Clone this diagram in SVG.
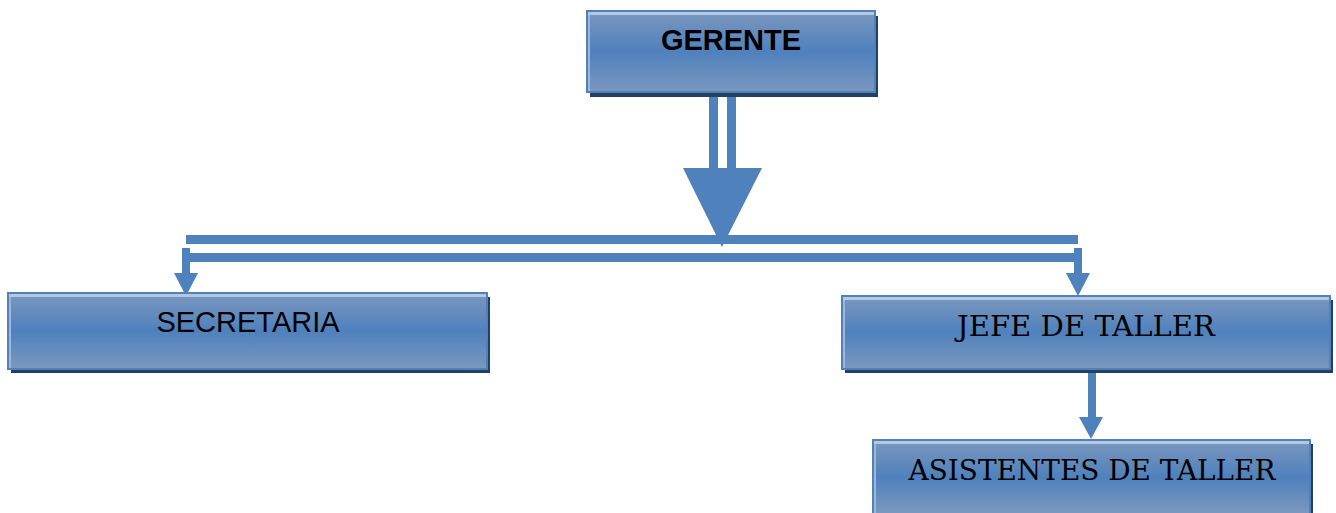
<svg xmlns="http://www.w3.org/2000/svg" width="1336" height="513" viewBox="0 0 1336 513">
<defs>
<linearGradient id="g" x1="0" y1="0" x2="0" y2="1">
<stop offset="0" stop-color="#7c98be"/>
<stop offset="0.5" stop-color="#4f81bd"/>
<stop offset="1" stop-color="#7c98be"/>
</linearGradient>
<style>
.sh{fill:#243f60}
.bx{fill:url(#g);stroke:#4f81bd;stroke-width:2}
.hl{fill:#b4c8e2}
.hv{fill:#9fb6d6}
.c{fill:#4f81bd}
.ts{font-family:"Liberation Sans",Arial,sans-serif;font-size:29px;fill:#000;text-anchor:middle}
.tr{font-family:"DejaVu Serif","Liberation Serif",serif;font-size:28px;fill:#000;text-anchor:middle}
</style>
</defs>
<rect width="1336" height="513" fill="#fff"/>
<g id="connectors">
<rect class="c" x="709" y="92" width="9" height="78"/>
<rect class="c" x="727" y="92" width="9" height="78"/>
<polygon class="c" points="683,168 762,168 722,247"/>
<rect class="c" x="186" y="235" width="892" height="9"/>
<rect class="c" x="182" y="253" width="900" height="9"/>
<rect class="c" x="182" y="248" width="8" height="26"/>
<polygon class="c" points="174,273 198,273 186,296"/>
<rect class="c" x="1074" y="248" width="8" height="26"/>
<polygon class="c" points="1066,273 1090,273 1078,296"/>
<rect class="c" x="1088" y="369" width="8" height="49"/>
<polygon class="c" points="1079,417 1103,417 1091,439"/>
</g>
<g id="gerente">
<rect class="sh" x="590" y="16" width="288" height="81"/>
<rect class="bx" x="587" y="11" width="288" height="81"/>
<rect class="hl" x="588" y="12" width="286" height="3"/>
<rect class="hv" x="588" y="15" width="2" height="76"/>
<text class="ts" x="731" y="50" font-weight="bold">GERENTE</text>
</g>
<g id="secretaria">
<rect class="sh" x="11" y="297" width="479" height="76"/>
<rect class="bx" x="8" y="293" width="479" height="76"/>
<rect class="hl" x="9" y="294" width="477" height="3"/>
<rect class="hv" x="9" y="297" width="2" height="71"/>
<text class="ts" x="248" y="332">SECRETARIA</text>
</g>
<g id="jefe">
<rect class="sh" x="845" y="300" width="488" height="73"/>
<rect class="bx" x="842" y="296" width="488" height="73"/>
<rect class="hl" x="843" y="297" width="486" height="3"/>
<rect class="hv" x="843" y="300" width="2" height="68"/>
<text class="tr" x="1086" y="336" textLength="258" lengthAdjust="spacingAndGlyphs">JEFE DE TALLER</text>
</g>
<g id="asistentes">
<rect class="sh" x="876" y="444" width="437" height="74"/>
<rect class="bx" x="873" y="440" width="437" height="74"/>
<rect class="hl" x="874" y="441" width="435" height="3"/>
<rect class="hv" x="874" y="444" width="2" height="69"/>
<text class="tr" x="1092" y="480" textLength="367" lengthAdjust="spacingAndGlyphs">ASISTENTES DE TALLER</text>
</g>
</svg>
